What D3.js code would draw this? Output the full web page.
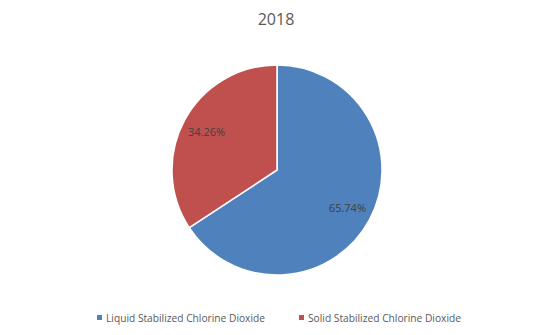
<!DOCTYPE html>
<html><head><meta charset="utf-8">
<script src="https://cdn.jsdelivr.net/npm/d3@7"></script>
<style>body{margin:0;background:#fff}svg{display:block}</style>
</head><body>
<svg id="c" width="555" height="335"></svg>
<script>
const title = "2018";
const categories = ["Liquid Stabilized Chlorine Dioxide", "Solid Stabilized Chlorine Dioxide"];
const values = [65.74, 34.26];
const colors = ["#4F81BD", "#C0504D"];

const svg = d3.select("#c");
const cx = 277, cy = 170, R = 105;
const font = "'Open Sans', sans-serif";

svg.append("text").attr("x", 276).attr("y", 25).attr("text-anchor", "middle")
  .attr("font-family", font).attr("font-size", 16).attr("fill", "#595959").text(title);

const pie = d3.pie().sort(null).value(d => d)(values);
const arc = d3.arc().innerRadius(0).outerRadius(R);
const labelArc = d3.arc().innerRadius(80).outerRadius(80);
const g = svg.append("g").attr("transform", `translate(${cx},${cy})`);
g.selectAll("path").data(pie).join("path")
  .attr("d", arc).attr("fill", (d, i) => colors[i])
  .attr("stroke", "#fff").attr("stroke-width", 1.5);
g.selectAll("text").data(pie).join("text")
  .attr("transform", d => `translate(${labelArc.centroid(d)})`)
  .attr("text-anchor", "middle").attr("dy", "0.35em")
  .attr("font-family", font).attr("font-size", 11).attr("fill", "#404040")
  .text(d => d.data.toFixed(2) + "%");

const legendX = [97, 299];
const lg = svg.append("g");
categories.forEach((c, i) => {
  lg.append("rect").attr("x", legendX[i]).attr("y", 315).attr("width", 5).attr("height", 5).attr("fill", colors[i]);
  lg.append("text").attr("x", legendX[i] + 9).attr("y", 321.5)
    .attr("font-family", font).attr("font-size", 10.5).attr("fill", "#595959")
    .attr("textLength", i === 0 ? 159 : 153).attr("lengthAdjust", "spacingAndGlyphs")
    .text(c);
});
</script>
</body></html>
